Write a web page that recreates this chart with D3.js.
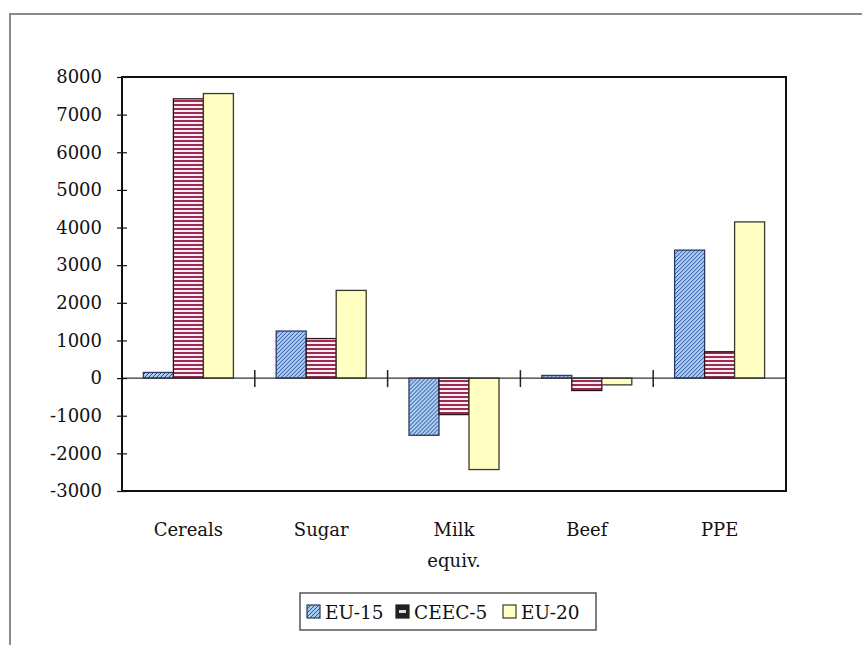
<!DOCTYPE html>
<html><head><meta charset="utf-8">
<script src="https://cdn.jsdelivr.net/npm/d3@7"></script>
<style>
html,body{margin:0;padding:0;background:#fff;}
</style></head>
<body>
<svg id="chart" width="862" height="645"></svg>
<script>
const categories = [["Cereals"], ["Sugar"], ["Milk", "equiv."], ["Beef"], ["PPE"]];
const seriesNames = ["EU-15", "CEEC-5", "EU-20"];
const eu15 = [150, 1250, -1520, 70, 3400];
const ceec5 = [7420, 1050, -970, -330, 700];
const eu20 = [7560, 2330, -2430, -180, 4150];
const yTicks = [8000, 7000, 6000, 5000, 4000, 3000, 2000, 1000, 0, -1000, -2000, -3000];

const FONT = "'DejaVu Serif', 'Liberation Serif', 'Noto Serif', serif";
const svg = d3.select("#chart");
const W = 862, H = 645;
const L = 122, R = 786, T = 77, B = 491;

// patterns
const defs = svg.append("defs");
const p1 = defs.append("pattern").attr("id","pEU15").attr("patternUnits","userSpaceOnUse")
  .attr("width",4).attr("height",4);
p1.append("rect").attr("width",4).attr("height",4).attr("fill","#a9cdf2");
p1.append("path").attr("d","M-1,1 l2,-2 M0,4 l4,-4 M3,5 l2,-2").attr("stroke","#2f4f9a").attr("stroke-width",1);
const p2 = defs.append("pattern").attr("id","pCEEC").attr("patternUnits","userSpaceOnUse")
  .attr("width",4).attr("height",4);
p2.append("rect").attr("width",4).attr("height",4).attr("fill","#fbeef2");
p2.append("rect").attr("y",0).attr("width",4).attr("height",2).attr("fill","#9b2c55");

const fills = ["url(#pEU15)", "url(#pCEEC)", "#ffffc4"];
const strokes = ["#2a3a60", "#2a1418", "#3a3a2a"];

// outer frame
svg.append("path").attr("d",`M10,${H+5} L10,14 L${W+5},14`).attr("fill","none")
  .attr("stroke","#8a8a8a").attr("stroke-width",2);

const y = d3.scaleLinear().domain([-3000, 8000]).range([B, T]);
const x0 = d3.scaleBand().domain(d3.range(categories.length)).range([L, R]).padding(0);
const x1 = d3.scaleBand().domain(d3.range(seriesNames.length)).range([0, x0.bandwidth()])
  .paddingInner(0).paddingOuter(0.713);

const data = [eu15, ceec5, eu20];

// bars
categories.forEach((c, i) => {
  const g = svg.append("g").attr("transform", `translate(${x0(i)},0)`);
  g.selectAll("rect").data(data.map((s, k) => ({k, v: s[i]}))).join("rect")
    .attr("x", d => x1(d.k))
    .attr("width", x1.bandwidth())
    .attr("y", d => y(Math.max(0, d.v)))
    .attr("height", d => Math.abs(y(d.v) - y(0)))
    .attr("fill", d => fills[d.k])
    .attr("stroke", d => strokes[d.k])
    .attr("stroke-width", 1.3);
});

// zero line with category separator ticks
svg.append("line").attr("x1",L).attr("x2",R).attr("y1",y(0)).attr("y2",y(0))
  .attr("stroke","#333").attr("stroke-width",1.2);
d3.range(1, categories.length).forEach(i => {
  svg.append("line").attr("x1",x0(i)).attr("x2",x0(i)).attr("y1",y(0)-8).attr("y2",y(0)+9)
    .attr("stroke","#222").attr("stroke-width",1.5);
});

// plot frame
svg.append("rect").attr("x",L).attr("y",T).attr("width",R-L).attr("height",B-T)
  .attr("fill","none").attr("stroke","#111").attr("stroke-width",2);

// y axis
const yAxis = d3.axisLeft(y).tickValues(yTicks).tickSize(0).tickPadding(20).tickFormat(d => String(d));
const ga = svg.append("g").attr("transform",`translate(${L},0)`).call(yAxis);
ga.attr("font-family", null).attr("font-size", null);
ga.select(".domain").remove();
ga.selectAll("text").style("font-family", FONT).style("font-size","18px").attr("fill","#111");
ga.selectAll(".tick").append("line").attr("x1",-5).attr("x2",5).attr("stroke","#111").attr("stroke-width",1.2);

// x labels
categories.forEach((c, i) => {
  const t = svg.append("text").attr("x", x0(i) + x0.bandwidth()/2).attr("y", 536)
    .attr("text-anchor","middle").style("font-family", FONT).style("font-size","18px").attr("fill","#111");
  c.forEach((line, j) => t.append("tspan").attr("x", x0(i) + x0.bandwidth()/2).attr("dy", j === 0 ? 0 : 31).text(line));
});

// legend
const lg = svg.append("g");
lg.append("rect").attr("x",300).attr("y",593).attr("width",296).attr("height",37)
  .attr("fill","#fff").attr("stroke","#555").attr("stroke-width",1.5);
const legX = [307, 396, 503];
seriesNames.forEach((s, k) => {
  lg.append("rect").attr("x",legX[k]).attr("y",605).attr("width",13).attr("height",13)
    .attr("fill", k === 1 ? "#fff" : fills[k]).attr("stroke", strokes[k]).attr("stroke-width",1.2);
  if (k === 1) {
    lg.append("rect").attr("x",legX[k]).attr("y",605).attr("width",13).attr("height",13).attr("fill","#222");
    lg.append("rect").attr("x",legX[k]+3).attr("y",610).attr("width",7).attr("height",3).attr("fill","#ddd");
  }
  lg.append("text").attr("x",legX[k]+18).attr("y",619).style("font-family", FONT).style("font-size","18.5px").attr("fill","#111").text(s);
});
</script>
</body></html>
